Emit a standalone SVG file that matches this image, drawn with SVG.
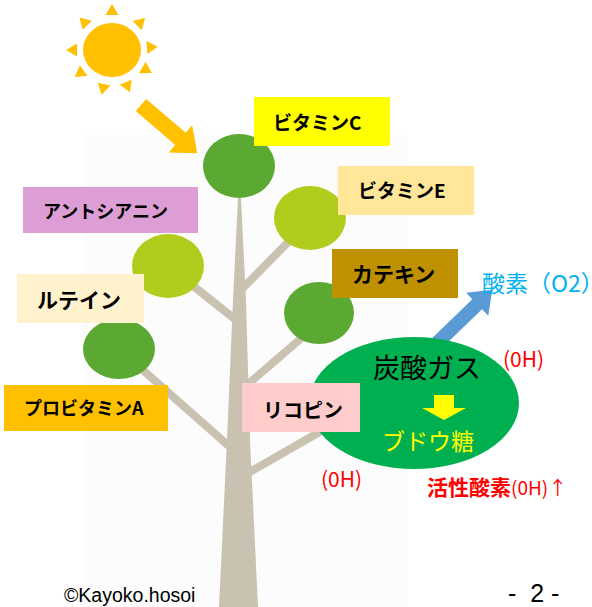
<svg xmlns="http://www.w3.org/2000/svg" xmlns:xlink="http://www.w3.org/1999/xlink" width="592" height="607" viewBox="0 0 592 607">
  <style>
    .lbl { font-family: "Noto Sans CJK JP", "Noto Sans", sans-serif; font-weight: bold; fill: #000; }
    .jp { font-family: "Noto Sans CJK JP", "Noto Sans", sans-serif; }
    .wood { fill: #C9C2B1; }
    .branch { stroke: #C9C2B1; stroke-width: 8; fill: none; }
    .dark { fill: #5BA932; }
    .light { fill: #B2CC1E; }
    .red { fill: #FF0000; }
  </style>
  <defs>
    <polygon id="ray" points="-6.5,-35 6.5,-35 0,-46" fill="#FFC000"/>
  </defs>

  <rect x="0" y="0" width="592" height="607" fill="#FFFFFF"/>
  <!-- soft backdrop behind the tree -->
  <rect x="83" y="135" width="325" height="472" fill="#FCFCFC"/>

  <!-- tree -->
  <g id="tree">
    <polygon class="wood" points="238,198 241,198 246,300 250,440 258,607 219,607 227,440 233,300"/>
    <line class="branch" x1="241" y1="290" x2="300" y2="230"/>
    <line class="branch" x1="168" y1="266" x2="236" y2="320"/>
    <line class="branch" x1="305" y1="335" x2="246" y2="386"/>
    <line class="branch" x1="119" y1="349" x2="230" y2="447"/>
    <line class="branch" x1="330" y1="426" x2="248" y2="473"/>
  </g>

  <!-- leaves -->
  <g id="leaf-top"><ellipse class="dark" cx="239" cy="166" rx="36" ry="32"/></g>
  <g id="leaf-right-upper"><ellipse class="light" cx="310" cy="218" rx="36" ry="32"/></g>
  <g id="leaf-left-upper"><ellipse class="light" cx="168" cy="266" rx="36" ry="32"/></g>
  <g id="leaf-right-lower"><ellipse class="dark" cx="319" cy="313" rx="35" ry="31"/></g>
  <g id="leaf-left-lower"><ellipse class="dark" cx="119" cy="349" rx="36" ry="30"/></g>

  <!-- sun -->
  <g id="sun">
    <ellipse cx="112" cy="50" rx="29" ry="27" fill="#FFC000"/>
    <use xlink:href="#ray" href="#ray" transform="translate(112,50) rotate(0)"/>
    <use xlink:href="#ray" href="#ray" transform="translate(112,50) rotate(46)"/>
    <use xlink:href="#ray" href="#ray" transform="translate(112,50) rotate(86)"/>
    <use xlink:href="#ray" href="#ray" transform="translate(112,50) rotate(120)"/>
    <use xlink:href="#ray" href="#ray" transform="translate(112,50) rotate(157)"/>
    <use xlink:href="#ray" href="#ray" transform="translate(112,50) rotate(193)"/>
    <use xlink:href="#ray" href="#ray" transform="translate(112,50) rotate(234)"/>
    <use xlink:href="#ray" href="#ray" transform="translate(112,50) rotate(270)"/>
    <use xlink:href="#ray" href="#ray" transform="translate(112,50) rotate(315)"/>
  </g>

  <!-- connectors -->
  <g id="connectors">
    <polygon fill="#FFC000" points="0,-8 52,-8 52,-18 74,0 52,18 52,8 0,8" transform="translate(141,105) rotate(40.6)"/>
    <polygon fill="#5B9BD5" points="0,-7 60,-7 60,-16 81,0 60,16 60,7 0,7" transform="translate(434,346) rotate(-44)"/>
  </g>

  <!-- photosynthesis -->
  <g id="photosynthesis">
    <ellipse cx="414" cy="403" rx="105" ry="66" fill="#00B050"/>
    <text class="jp" x="427" y="378" font-size="27" text-anchor="middle" fill="#000">炭酸ガス</text>
    <polygon fill="#FFFF00" points="434,395 454,395 454,408 466,408 444,420 422,408 434,408"/>
    <text class="jp" x="428" y="450" font-size="23" text-anchor="middle" fill="#FFFF00">ブドウ糖</text>
  </g>

  <!-- labels -->
  <g id="label-vitamin-c">
    <rect x="254" y="97" width="136" height="49" fill="#FFFF00"/>
    <text class="lbl" x="273" y="130" font-size="19">ビタミンC</text>
  </g>
  <g id="label-vitamin-e">
    <rect x="338" y="166" width="136" height="49" fill="#FFE699"/>
    <text class="lbl" x="358" y="198" font-size="19">ビタミンE</text>
  </g>
  <g id="label-catechin">
    <rect x="332" y="249" width="126" height="49" fill="#BF9000"/>
    <text class="lbl" x="352" y="282" font-size="21">カテキン</text>
  </g>
  <g id="label-anthocyanin">
    <rect x="23" y="187" width="175" height="46" fill="#DD9ED6"/>
    <text class="lbl" x="43" y="218" font-size="18">アントシアニン</text>
  </g>
  <g id="label-lutein">
    <rect x="17" y="274" width="127" height="49" fill="#FFF2CC"/>
    <text class="lbl" x="37" y="308" font-size="21">ルテイン</text>
  </g>
  <g id="label-provitamin-a">
    <rect x="4" y="385" width="164" height="46" fill="#FFC000"/>
    <text class="lbl" x="24" y="415" font-size="18">プロビタミンA</text>
  </g>
  <g id="label-lycopene">
    <rect x="242" y="383" width="118" height="49" fill="#FFCCCC"/>
    <text class="lbl" x="263" y="418" font-size="20">リコピン</text>
  </g>

  <g id="oxygen">
    <text class="jp" x="482" y="292" font-size="23" fill="#00B0F0">酸素（O2）</text>
  </g>

  <g id="oh-labels">
    <text class="jp red" x="503" y="367" font-size="21">(0H)</text>
    <text class="jp red" x="321" y="487" font-size="21">(0H)</text>
    <text class="jp red" x="427" y="495" font-size="21"><tspan font-weight="bold">活性酸素</tspan><tspan font-size="19">(0H)↑</tspan></text>
  </g>

  <g id="footer">
    <text x="64" y="602" font-family="Liberation Sans, sans-serif" font-size="19.5" fill="#000">©Kayoko.hosoi</text>
    <text x="508" y="602" font-family="Liberation Sans, sans-serif" font-size="25" fill="#000" xml:space="preserve">-  2 -</text>
  </g>
</svg>
